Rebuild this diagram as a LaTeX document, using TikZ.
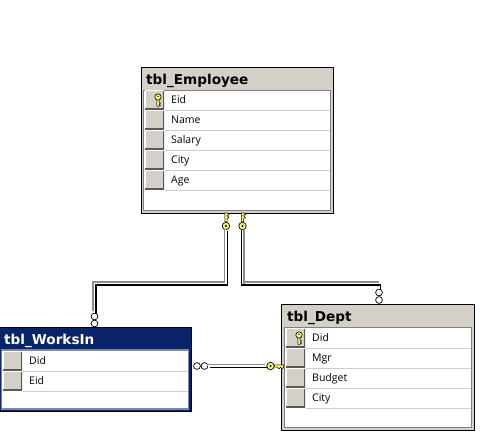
\documentclass[tikz,border=0pt]{standalone}
\usepackage{fontspec}
\setmainfont{DejaVu Sans}
\newfontfamily\rowfont{Open Sans}
\definecolor{tblGray}{RGB}{212,208,200}
\definecolor{tblNavy}{RGB}{10,36,106}
\definecolor{tblEdge}{RGB}{128,128,128}
\definecolor{navyEdge}{RGB}{120,135,180}
\definecolor{rowLine}{RGB}{205,205,205}
\definecolor{keyYellow}{RGB}{250,245,110}
\tikzset{
tblbox/.style={draw=black, line width=1pt, fill=tblGray, inner sep=0pt},
tblinner/.style={draw=tblEdge, line width=1.2pt, fill=white, inner sep=0pt},
tbltitle/.style={font=\fontsize{13.6}{14}\selectfont\bfseries, anchor=west, inner sep=0pt, text height=10pt, text depth=3pt},
btn/.style={fill=tblGray, inner sep=0pt, minimum width=19pt, minimum height=18.5pt, path picture={
\draw[white, line width=1pt] (path picture bounding box.south west) -- (path picture bounding box.north west) -- (path picture bounding box.north east);
\draw[black!65, line width=1.6pt] (path picture bounding box.south west) -- (path picture bounding box.south east) -- (path picture bounding box.north east);
}},
rowtxt/.style={font=\rowfont\fontsize{10.5}{12}\selectfont, anchor=west, inner sep=0pt, text height=8pt, text depth=2.5pt},
ring/.style={circle, draw=black, fill=white, line width=0.7pt, inner sep=0pt, minimum size=6.8pt},
keybow/.style={circle, draw=black, fill=keyYellow, line width=0.7pt, inner sep=0pt, minimum size=7.5pt, path picture={
\fill[black] (path picture bounding box.center) circle (1.2pt);
}},
relline/.style={draw=white, line width=1.4pt, line join=miter,
preaction={draw=black!45, line width=1.8pt, transform canvas={shift={(-1.4pt,1.4pt)}}},
postaction={draw=black, line width=1.4pt, transform canvas={shift={(1.3pt,-1.3pt)}}}},
relflip/.style={draw=white, line width=1.4pt,
preaction={draw=black!45, line width=1.8pt, transform canvas={shift={(1.4pt,0pt)}}},
postaction={draw=black, line width=1.4pt, transform canvas={shift={(-1.3pt,0pt)}}}},
keyshaft/.pic={
\fill[keyYellow, draw=black, line width=0.5pt] (-1.1,0) -- (-1.1,-9) -- (1.1,-9) -- (3,-7.5) -- (1.1,-6) -- (3,-4.5) -- (1.1,-3) -- (1.1,0) -- cycle;
},
pkkey/.pic={
\fill[keyYellow, draw=black, line width=0.5pt] (-1.2,-1) -- (-1.2,6) -- (0.4,6.5) -- (2.4,5.2) -- (1.2,4.2) -- (2.4,3) -- (1.2,2) -- (1.2,-1) -- cycle;
\fill[keyYellow, draw=black, line width=0.6pt] (0,-3) circle (3.2);
\fill[black] (0,-3.6) circle (0.7);
},
}
\begin{document}
\begin{tikzpicture}[x=1pt, y=-1pt]
\useasboundingbox (0,0) rectangle (494,442);
\fill[white] (0,0) rectangle (494,442);
\node[tblbox, minimum width=192pt, minimum height=146pt] (tblEmployee) at (237,140) {};
\node[tblinner, minimum width=187pt, minimum height=120pt] (innerEmployee) at (237,150.5) {};
\node[tbltitle] (titleEmployee) at (146,81) {tbl\_Employee};
\foreach \y/\lbl in {100/Eid, 120/Name, 140/Salary, 160/City, 180/Age}{
\node[btn] (btnEmp\y) at (154.5,\y) {};
\node[rowtxt] (txtEmp\y) at (171,\y+1) {\lbl};
\draw[rowLine] (165,\y+10) -- (329.5,\y+10);
}
\pic at (158,100) {pkkey};
\node[tblbox, draw=black, fill=tblNavy, minimum width=192pt, minimum height=84pt] (tblWorksIn) at (95,369.5) {};
\node[tblinner, draw=navyEdge, minimum width=187pt, minimum height=59pt] (innerWorksIn) at (95,379.5) {};
\node[tbltitle, text=white] (titleWorksIn) at (4,341) {tbl\_WorksIn};
\foreach \y/\lbl in {361/Did, 381/Eid}{
\node[btn] (btnWorks\y) at (12.5,\y) {};
\node[rowtxt] (txtWorks\y) at (29,\y+1) {\lbl};
\draw[rowLine] (23,\y+10) -- (188,\y+10);
}
\node[tblbox, minimum width=193pt, minimum height=126pt] (tblDept) at (378,367) {};
\node[tblinner, minimum width=187pt, minimum height=100pt] (innerDept) at (378,377.5) {};
\node[tbltitle] (titleDept) at (287,318) {tbl\_Dept};
\foreach \y/\lbl in {338/Did, 358/Mgr, 378/Budget, 398/City}{
\node[btn] (btnDept\y) at (295.5,\y) {};
\node[rowtxt] (txtDept\y) at (312,\y+1) {\lbl};
\draw[rowLine] (306,\y+10) -- (470.5,\y+10);
}
\pic at (299,338) {pkkey};
\node[keybow] (keyEmpA) at (226,226) {};
\node[keybow] (keyEmpB) at (242.5,226) {};
\node[keybow] (keyDept) at (270.5,366) {};
\node[ring] (ringWorksA) at (94.5,323.5) {};
\node[ring] (ringWorksB) at (94.5,316.5) {};
\node[ring] (ringDeptA) at (379,300) {};
\node[ring] (ringDeptB) at (379,292.5) {};
\node[ring] (ringSideA) at (197,366) {};
\node[ring] (ringSideB) at (204.5,366) {};
\coordinate (bendLeft) at (94.5,283.5);
\coordinate (bendMid) at (keyEmpB.south |- bendLeft);
\coordinate (bendRight) at (379,283.5);
\draw[relline] (keyEmpA.south) |- (bendLeft) -- (ringWorksB.north);
\draw[relline] (bendMid) -- (bendRight) -- (ringDeptB.north);
\draw[relflip] (keyEmpB.south) -- (bendMid);
\draw[black, line width=1.4pt] ([shift={(-2pt,-1.3pt)}]bendMid) -- ([shift={(2pt,-1.3pt)}]bendMid);
\draw[relline] (ringSideB.east) -- (keyDept.west);
\pic at (keyEmpA.north) {keyshaft};
\pic at (keyEmpB.north) {keyshaft};
\pic[rotate=-90] at (keyDept.east) {keyshaft};
\end{tikzpicture}
\end{document}
